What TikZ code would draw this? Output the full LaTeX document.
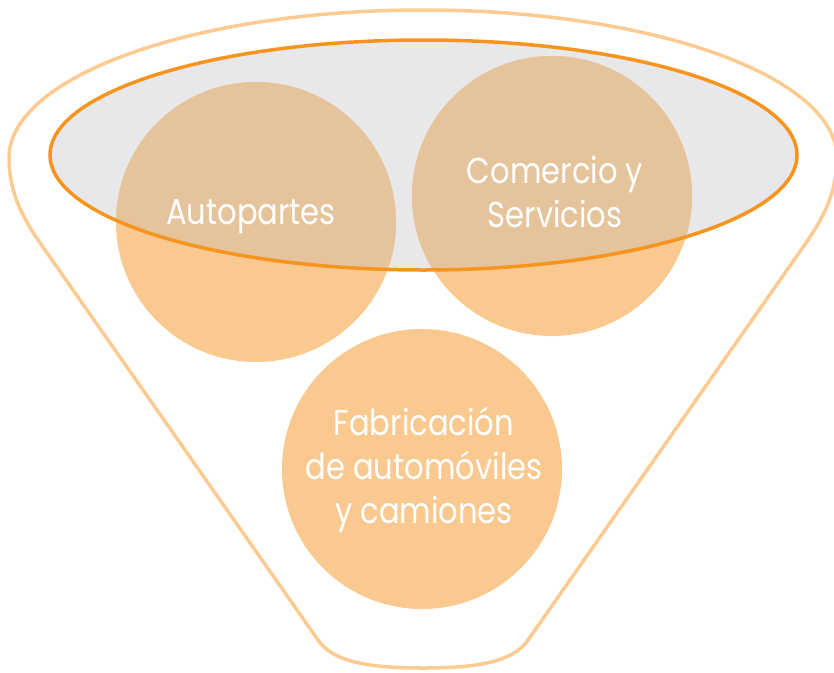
\documentclass[tikz,border=0pt]{standalone}
\usepackage{fontspec}
\setmainfont{Poppins}[FakeStretch=0.85]
\definecolor{funnel}{HTML}{FDCB91}
\definecolor{rim}{HTML}{F7941D}
\definecolor{rimfill}{HTML}{E8E8EA}
\definecolor{sector}{HTML}{F9C98F}
\definecolor{sectorin}{HTML}{E5C49B}
\begin{document}
\begin{tikzpicture}[x=1pt,y=-1pt,
	main node/.style = {circle, fill=sector, inner sep = 0pt, minimum size = 280pt},
	name text/.style = {text=white, align=center, font=\fontsize{36}{44}\selectfont}]
	\useasboundingbox (0,0) rectangle (834,672);
	% funnel
	\draw[funnel, line width=3.5pt, line join=round]
	(9,158) .. controls (9,195) and (25,222) .. (45,250)
	-- (318,640) .. controls (332,660) and (362,668) .. (423,668)
	.. controls (484,668) and (514,660) .. (528,640)
	-- (801,250) .. controls (821,222) and (837,195) .. (837,158)
	.. controls (837,76.3) and (651.6,10) .. (423,10)
	.. controls (194.4,10) and (9,76.3) .. cycle;
	% rim
	\fill[rimfill] (423.5,155) ellipse [x radius=373.5, y radius=115];
	\node[main node] (auto) at (256,222) {};
	\node[main node] (comercio) at (552,196) {};
	\node[main node] (fab) at (422,469) {};
	\begin{scope}
	\clip (423.5,155) ellipse [x radius=373.5, y radius=115];
	\foreach \n in {auto,comercio}
	\fill[sectorin] (\n.center) circle [radius=140pt];
	\end{scope}
	\draw[rim, line width=3.5pt] (423.5,155) ellipse [x radius=373.5, y radius=115];
	% names
	\node[name text] (auto text) at (251,217) {Autopartes};
	\node[name text] (comercio text) at (555,192) {Comercio y\\Servicios};
	\node[name text] (fab text) at (424,470) {Fabricación\\de automóviles\\y camiones};
\end{tikzpicture}
\end{document}
